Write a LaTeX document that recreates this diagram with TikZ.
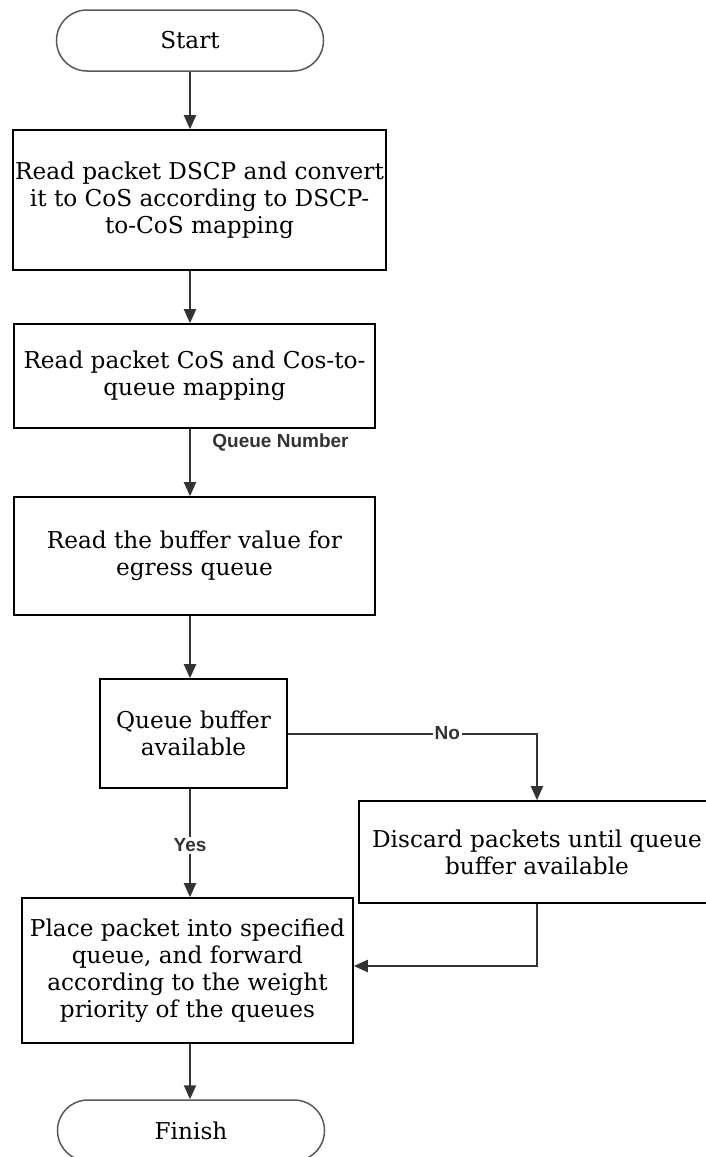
\documentclass[tikz,border=0pt]{standalone}
\usepackage{fontspec}
\setmainfont{DejaVu Serif}
\newfontfamily\lblfont{Liberation Sans}
\usetikzlibrary{shapes.misc,arrows.meta}
\begin{document}
\begin{tikzpicture}[x=1pt,y=-1pt,
  box/.style={draw=black,line width=1.6pt,align=center,inner sep=0pt,
    font=\fontsize{23.2}{27}\selectfont},
  term/.style={rounded rectangle,draw=black!65,line width=1.5pt,inner sep=0pt,
    minimum width=267,minimum height=61,font=\fontsize{23.2}{27}\selectfont},
  conn/.style={draw=black!80,line width=2pt,-{Triangle[length=14pt,width=12pt]}},
  lbl/.style={font=\lblfont\bfseries\fontsize{19}{22}\selectfont,text=black!80,inner sep=2pt}
]
\useasboundingbox (0,0) rectangle (706,1157);
\coordinate (ax) at (190,0);

\node[term] (start) at (190,40.5) {Start};
\node[box,minimum width=373,minimum height=140] (b1) at (199.5,200)
  {Read packet DSCP and convert\\it to CoS according to DSCP-\\to-CoS mapping};
\node[box,minimum width=361,minimum height=104] (b2) at (194.5,376)
  {Read packet CoS and Cos-to-\\queue mapping};
\node[box,minimum width=361,minimum height=118] (b3) at (194.5,556)
  {Read the buffer value for\\egress queue};
\node[box,minimum width=187,minimum height=109] (dec) at (193.5,733.5)
  {Queue buffer\\available};
\node[box,minimum width=356,minimum height=102] (b4) at (537,852)
  {Discard packets until queue\\buffer available};
\node[box,minimum width=331,minimum height=145] (b5) at (187.5,970.5)
  {Place packet into specified\\queue, and forward\\according to the weight\\priority of the queues};
\node[term] (finish) at (191,1130.5) {Finish};

\draw[conn] (start.south -| ax) -- (b1.north -| ax);
\draw[conn] (b1.south -| ax) -- (b2.north -| ax);
\draw[conn] (b2.south -| ax) -- (b3.north -| ax);
\node[lbl] (qn) at (280.5,442) {Queue Number};
\draw[conn] (b3.south -| ax) -- (dec.north -| ax);
\draw[conn] (dec.east) -| node[lbl,fill=white,pos=0.32] (nolbl) {No} (b4.north);
\draw[conn] (dec.south -| ax) -- node[lbl,fill=white,pos=0.52] (yeslbl) {Yes} (b5.north -| ax);
\draw[conn] (b4.south) |- ([yshift=4.5pt]b5.east);
\draw[conn] (b5.south -| ax) -- (finish.north -| ax);
\end{tikzpicture}
\end{document}
